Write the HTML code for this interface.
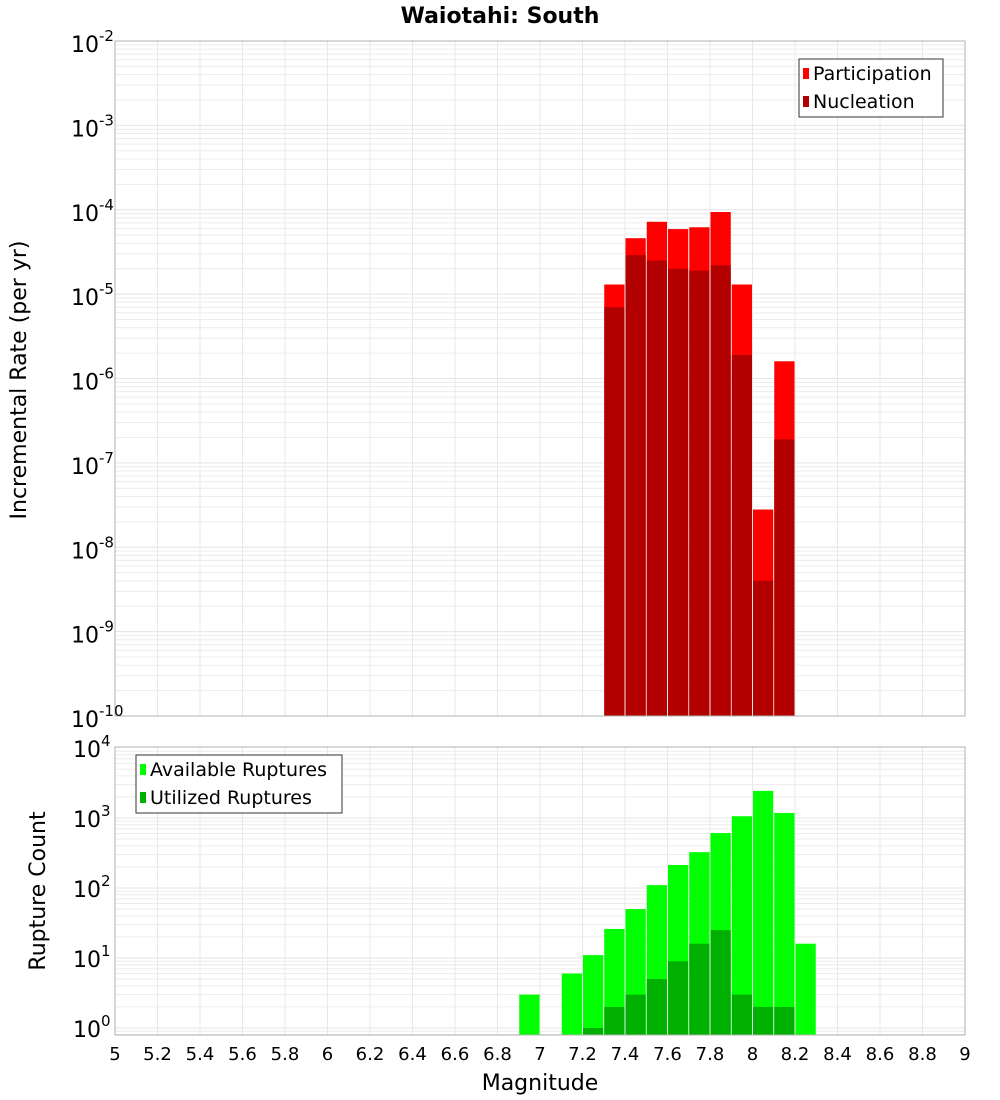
<!DOCTYPE html>
<html><head><meta charset="utf-8"><style>
body{margin:0;background:#fff;}
svg{display:block;font-family:"DejaVu Sans","Liberation Sans",sans-serif;}
</style></head><body>
<svg id="c" width="1000" height="1100" xmlns="http://www.w3.org/2000/svg">
<text x="500" y="23" text-anchor="middle" font-size="22" font-weight="bold" font-family="DejaVu Sans, sans-serif">Waiotahi: South</text>
<g id="top"></g>
<g id="bot"></g>
</svg>
<script>
const mags = [7.35,7.45,7.55,7.65,7.75,7.85,7.95,8.05,8.15];
const participation = [1.3e-5,4.6e-5,7.2e-5,5.9e-5,6.2e-5,9.4e-5,1.3e-5,2.8e-8,1.6e-6];
const nucleation = [7e-6,2.9e-5,2.5e-5,2.0e-5,1.9e-5,2.2e-5,1.9e-6,4e-9,1.9e-7];
const countMags = [6.95,7.05,7.15,7.25,7.35,7.45,7.55,7.65,7.75,7.85,7.95,8.05,8.15,8.25];
const available = [3,0,6,11,26,50,110,213,325,610,1060,2440,1180,16];
const utilized = [0,0,0,1,2,3,5,9,16,25,3,2,2,0];
const xTicks = [5,5.2,5.4,5.6,5.8,6,6.2,6.4,6.6,6.8,7,7.2,7.4,7.6,7.8,8,8.2,8.4,8.6,8.8,9];
const topDecades = [-2,-3,-4,-5,-6,-7,-8,-9,-10];
const botDecades = [4,3,2,1,0];

const NS="http://www.w3.org/2000/svg";
const X0=115,X1=965;
const xs=m=>X0+(m-5)/4*(X1-X0);
function el(p,t,a,txt){const e=document.createElementNS(NS,t);for(const k in a)e.setAttribute(k,a[k]);if(txt!=null)e.textContent=txt;p.appendChild(e);return e;}
const yTop=v=>41+(-2-Math.log10(v))*84.375;
const yBot=v=>1028-Math.log10(v)*70;
const topG=document.getElementById('top'),botG=document.getElementById('bot');

function frame(g,y0,y1,ys,dmin,dmax){
  for(let d=dmin;d<dmax;d++)for(let k=1;k<10;k++){const y=ys(k*Math.pow(10,d));if(y>=y0&&y<=y1){
    const l=el(g,'line',{x1:X0,x2:X1,y1:y,y2:y,stroke:k==1?'#e4e4e4':'#ececec','stroke-width':1});
    
    }}
  xTicks.forEach(t=>{const l=el(g,'line',{x1:xs(t),x2:xs(t),y1:y0,y2:y1,stroke:'#e8e8e8','stroke-width':1});
    
    });
}
frame(topG,41,716,yTop,-10,-2);
frame(botG,747,1035,yBot,-1,4);

mags.forEach((m,i)=>{
  const x=xs(m-0.05)+0.5,w=xs(m+0.05)-xs(m-0.05)-1;
  let y=yTop(participation[i]);
  const r=el(topG,'rect',{x:x,y:y,width:w,height:716-y,fill:'#ff0000'});
  
  
  y=yTop(nucleation[i]);
  const r2=el(topG,'rect',{x:x,y:y,width:w,height:716-y,fill:'#b20000'});
  
  
});
countMags.forEach((m,i)=>{
  const x=xs(m-0.05)+0.5,w=xs(m+0.05)-xs(m-0.05)-1;
  if(available[i]>0){const y=yBot(available[i]);
    const r=el(botG,'rect',{x:x,y:y,width:w,height:1035-y,fill:'#00ff00'});
    
    }
  if(utilized[i]>0){const y=yBot(utilized[i]);
    const r=el(botG,'rect',{x:x,y:y,width:w,height:1035-y,fill:'#00b000'});
    
    }
});
el(topG,'rect',{x:X0,y:41,width:X1-X0,height:675,fill:'none',stroke:'#b0b0b0'});
el(botG,'rect',{x:X0,y:747,width:X1-X0,height:288,fill:'none',stroke:'#b0b0b0'});

topDecades.forEach(d=>{const y=yTop(Math.pow(10,d));
  const t=el(topG,'text',{x:71,y:y+11,'font-size':22});
  
  
  el(t,'tspan',{},'10');el(t,'tspan',{dy:-11,'font-size':15},String(d));});
botDecades.forEach(d=>{const y=yBot(Math.pow(10,d));
  const t=el(botG,'text',{x:73,y:y+9,'font-size':22});
  
  
  el(t,'tspan',{},'10');el(t,'tspan',{dy:-11,'font-size':15},String(d));});
xTicks.forEach(t=>{const e=el(botG,'text',{x:xs(t),y:1060,'text-anchor':'middle','font-size':18},String(Math.round(t*10)/10));
  
  });

const ax=el(botG,'text',{x:540,y:1090,'text-anchor':'middle','font-size':22},'Magnitude');

const ay=el(topG,'text',{x:0,y:0,transform:'translate(26,380) rotate(-90)','text-anchor':'middle','font-size':22},'Incremental Rate (per yr)');

const ay2=el(botG,'text',{x:0,y:0,transform:'translate(45,891) rotate(-90)','text-anchor':'middle','font-size':22},'Rupture Count');


function legend(g,x,y,w,items){
  const lg=el(g,'g',{});
  
  
  el(lg,'rect',{x:x,y:y,width:w,height:58,fill:'#fff',stroke:'#333'});
  items.forEach((it,i)=>{const yy=y+14+i*28;
    el(lg,'rect',{x:x+4,y:yy-5,width:6,height:11,fill:it[1]});
    const t=el(lg,'text',{x:x+14,y:yy+7,'font-size':19},it[0]);
    
    });
}
legend(topG,799,59,144,[['Participation','#ff0000'],['Nucleation','#b20000']]);
legend(botG,136,755,206,[['Available Ruptures','#00ff00'],['Utilized Ruptures','#00b000']]);
</script>
</body></html>
